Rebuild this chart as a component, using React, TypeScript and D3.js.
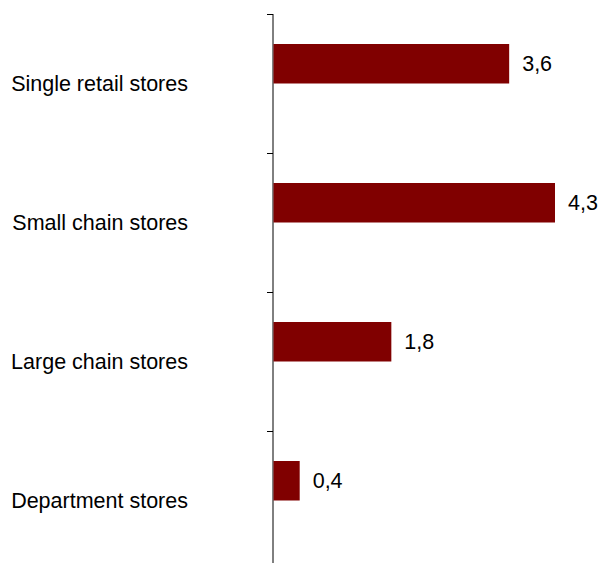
import React from "react";
import * as d3 from "d3";

const categories = ["Single retail stores", "Small chain stores", "Large chain stores", "Department stores"];
const values = [3.6, 4.3, 1.8, 0.4];
const valueLabels = ["3,6", "4,3", "1,8", "0,4"];

const W = 601;
const H = 563;
const axisX = 273.5;
const top = 14;
const bandStep = 139;

export default function App() {
  const y = d3
    .scaleBand<string>()
    .domain(categories)
    .range([top, top + bandStep * categories.length])
    .paddingInner(0)
    .paddingOuter(0);
  const x = d3.scaleLinear().domain([0, 4.3]).range([axisX, 555]);
  const barOffset = 30;
  const barH = 39.5;
  const font = "'Liberation Sans', Arial, sans-serif";
  return (
    <svg
      width={W}
      height={H}
      style={{ position: "absolute", left: 0, top: 0, background: "#fff" }}
    >
      {/* axis line */}
      <line x1={axisX - 0.5} x2={axisX - 0.5} y1={top} y2={top + bandStep * categories.length} stroke="#000" strokeWidth={1} />
      {categories.map((c) => (
        <line
          key={"t" + c}
          x1={axisX - 6.5}
          x2={axisX - 0.5}
          y1={(y(c) as number) + 0.5}
          y2={(y(c) as number) + 0.5}
          stroke="#000"
          strokeWidth={1}
        />
      ))}
      {categories.map((c, i) => {
        const y0 = y(c) as number;
        const xe = x(values[i]);
        return (
          <g key={c}>
            <rect x={axisX} y={y0 + barOffset} width={xe - axisX} height={barH} fill="#800000" />
            <text
              x={188}
              y={y0 + y.bandwidth() / 2}
              textAnchor="end"
              dominantBaseline="central"
              fontFamily={font}
              fontSize={21.5}
              fill="#000"
            >
              {c}
            </text>
            <text
              x={xe + 13}
              y={y0 + barOffset + barH / 2}
              dominantBaseline="central"
              fontFamily={font}
              fontSize={21.5}
              fill="#000"
            >
              {valueLabels[i]}
            </text>
          </g>
        );
      })}
    </svg>
  );
}
